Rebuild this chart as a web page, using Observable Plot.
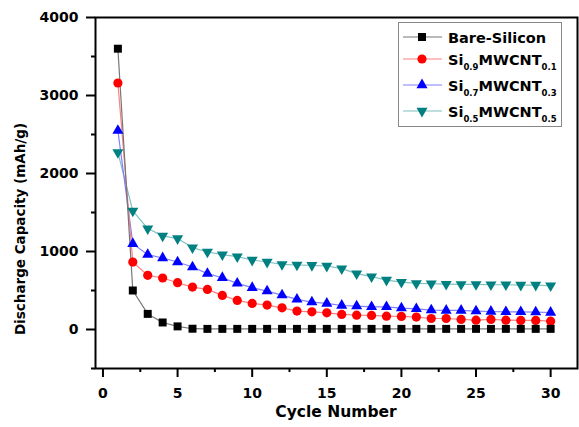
<!DOCTYPE html>
<html>
<head>
<meta charset="utf-8">
<script src="https://cdn.jsdelivr.net/npm/d3@7"></script>
<script src="https://cdn.jsdelivr.net/npm/@observablehq/plot@0.6"></script>
<style>
  html, body { margin: 0; padding: 0; background: white; }
  #wrap { position: relative; width: 579px; height: 427px; }
  #overlay { position: absolute; left: 0; top: 0; pointer-events: none; }
</style>
</head>
<body>
<div id="wrap"></div>
<script>
const cycles = [1,2,3,4,5,6,7,8,9,10,11,12,13,14,15,16,17,18,19,20,21,22,23,24,25,26,27,28,29,30];
const bareSilicon = [3600,500,200,90,40,10,8,8,8,8,8,8,8,8,8,8,8,8,8,8,8,8,8,8,8,8,8,8,8,8];
const si09 = [3160,865,694,660,600,544,514,437,373,334,313,278,236,227,214,193,184,180,171,167,159,141,141,129,120,129,120,116,116,107];
const si07 = [2550,1100,960,917,865,801,716,664,591,536,493,441,386,351,334,308,300,291,290,274,265,248,244,244,236,231,227,227,222,218];
const si05 = [2270,1521,1294,1200,1166,1050,994,960,934,891,865,835,827,823,814,780,716,677,634,608,591,587,582,578,578,574,574,570,570,561];
const xTicks = [0,5,10,15,20,25,30];
const xMinor = [2.5,7.5,12.5,17.5,22.5,27.5];
const yTicks = [0,1000,2000,3000,4000];
const yMinor = [-500,500,1500,2500,3500];

const sqrt3 = Math.sqrt(3);
const triangleDown = {
  draw(context, size) {
    const y = -Math.sqrt(size / (sqrt3 * 3));
    context.moveTo(0, -y * 2);
    context.lineTo(-sqrt3 * y, y);
    context.lineTo(sqrt3 * y, y);
    context.closePath();
  }
};

const series = [
  {main: "Bare-Silicon", sub1: null, sub2: null, values: bareSilicon, color: "#000000", line: "#777777", symbol: "square", r: 4.5, d3sym: d3.symbolSquare},
  {main: "Si", sub1: "0.9", sub2: "0.1", values: si09, color: "#ff0000", line: "#ff8080", symbol: "circle", r: 4.6, d3sym: d3.symbolCircle},
  {main: "Si", sub1: "0.7", sub2: "0.3", values: si07, color: "#0000ff", line: "#8080ff", symbol: "triangle", r: 4.1, d3sym: d3.symbolTriangle},
  {main: "Si", sub1: "0.5", sub2: "0.5", values: si05, color: "#008080", line: "#80c0c0", symbol: triangleDown, r: 4.1, d3sym: triangleDown}
];

const seriesMarks = [];
for (const s of series.slice().reverse()) {
  const rows = cycles.map((c, i) => ({cycle: c, value: s.values[i]}));
  seriesMarks.push(Plot.line(rows, {x: "cycle", y: "value", stroke: s.line, strokeWidth: 1.2}));
}
for (const s of series.slice().reverse()) {
  const rows = cycles.map((c, i) => ({cycle: c, value: s.values[i]}));
  seriesMarks.push(Plot.dot(rows, {x: "cycle", y: "value", symbol: s.symbol, fill: s.color, r: s.r, stroke: "none"}));
}

const W = 579, H = 427;
const chart = Plot.plot({
  width: W, height: H,
  marginLeft: 95, marginRight: 2, marginTop: 17, marginBottom: 59,
  style: {fontFamily: "DejaVu Sans", fontSize: "14px", fontWeight: "bold", background: "white", color: "black"},
  x: {domain: [-0.5, 31.8]},
  y: {domain: [-500, 4000]},
  marks: [
    Plot.axisX({ticks: xTicks, tickSize: 9, tickPadding: 11, tickFormat: "d", strokeWidth: 2, label: null}),
    Plot.axisX({ticks: xMinor, tickSize: 4, text: null, strokeWidth: 2, label: null}),
    Plot.axisY({ticks: yTicks, tickSize: 9, tickPadding: 8, tickFormat: "d", strokeWidth: 2, label: null}),
    Plot.axisY({ticks: yMinor, tickSize: 4, text: null, strokeWidth: 2, label: null}),
    ...seriesMarks,
    Plot.frame({strokeWidth: 2})
  ]
});
document.getElementById("wrap").appendChild(chart);

// overlay: axis titles and legend
const svg = d3.select("#wrap").append("svg")
  .attr("id", "overlay").attr("width", W).attr("height", H)
  .style("font-family", "DejaVu Sans").style("font-weight", "bold");

svg.append("text").attr("x", 336).attr("y", 417).attr("text-anchor", "middle")
  .attr("font-size", 15.5).text("Cycle Number");
svg.append("text").attr("transform", "translate(25,229) rotate(-90)").attr("text-anchor", "middle")
  .attr("font-size", 13.5).text("Discharge Capacity (mAh/g)");

const lg = svg.append("g");
lg.append("rect").attr("x", 398.5).attr("y", 22.5).attr("width", 163).attr("height", 104)
  .attr("fill", "white").attr("stroke", "#888").attr("stroke-width", 1);
const rowY = [37, 59, 85, 111];
series.forEach((s, i) => {
  const y = rowY[i];
  lg.append("line").attr("x1", 403).attr("x2", 442).attr("y1", y).attr("y2", y)
    .attr("stroke", s.line).attr("stroke-width", 1.2);
  lg.append("path").attr("transform", `translate(422,${y})`)
    .attr("d", d3.symbol(s.d3sym, Math.PI * s.r * s.r)()).attr("fill", s.color);
  const t = lg.append("text").attr("x", 448).attr("y", y + (s.sub1 ? 6 : 5.5)).attr("font-size", 14.5);
  if (!s.sub1) {
    t.text(s.main);
  } else {
    t.append("tspan").text(s.main);
    t.append("tspan").attr("font-size", 8.5).attr("dy", 5).text(s.sub1);
    t.append("tspan").attr("dy", -5).text("MWCNT");
    t.append("tspan").attr("font-size", 8.5).attr("dy", 5).text(s.sub2);
  }
});
</script>
</body>
</html>
